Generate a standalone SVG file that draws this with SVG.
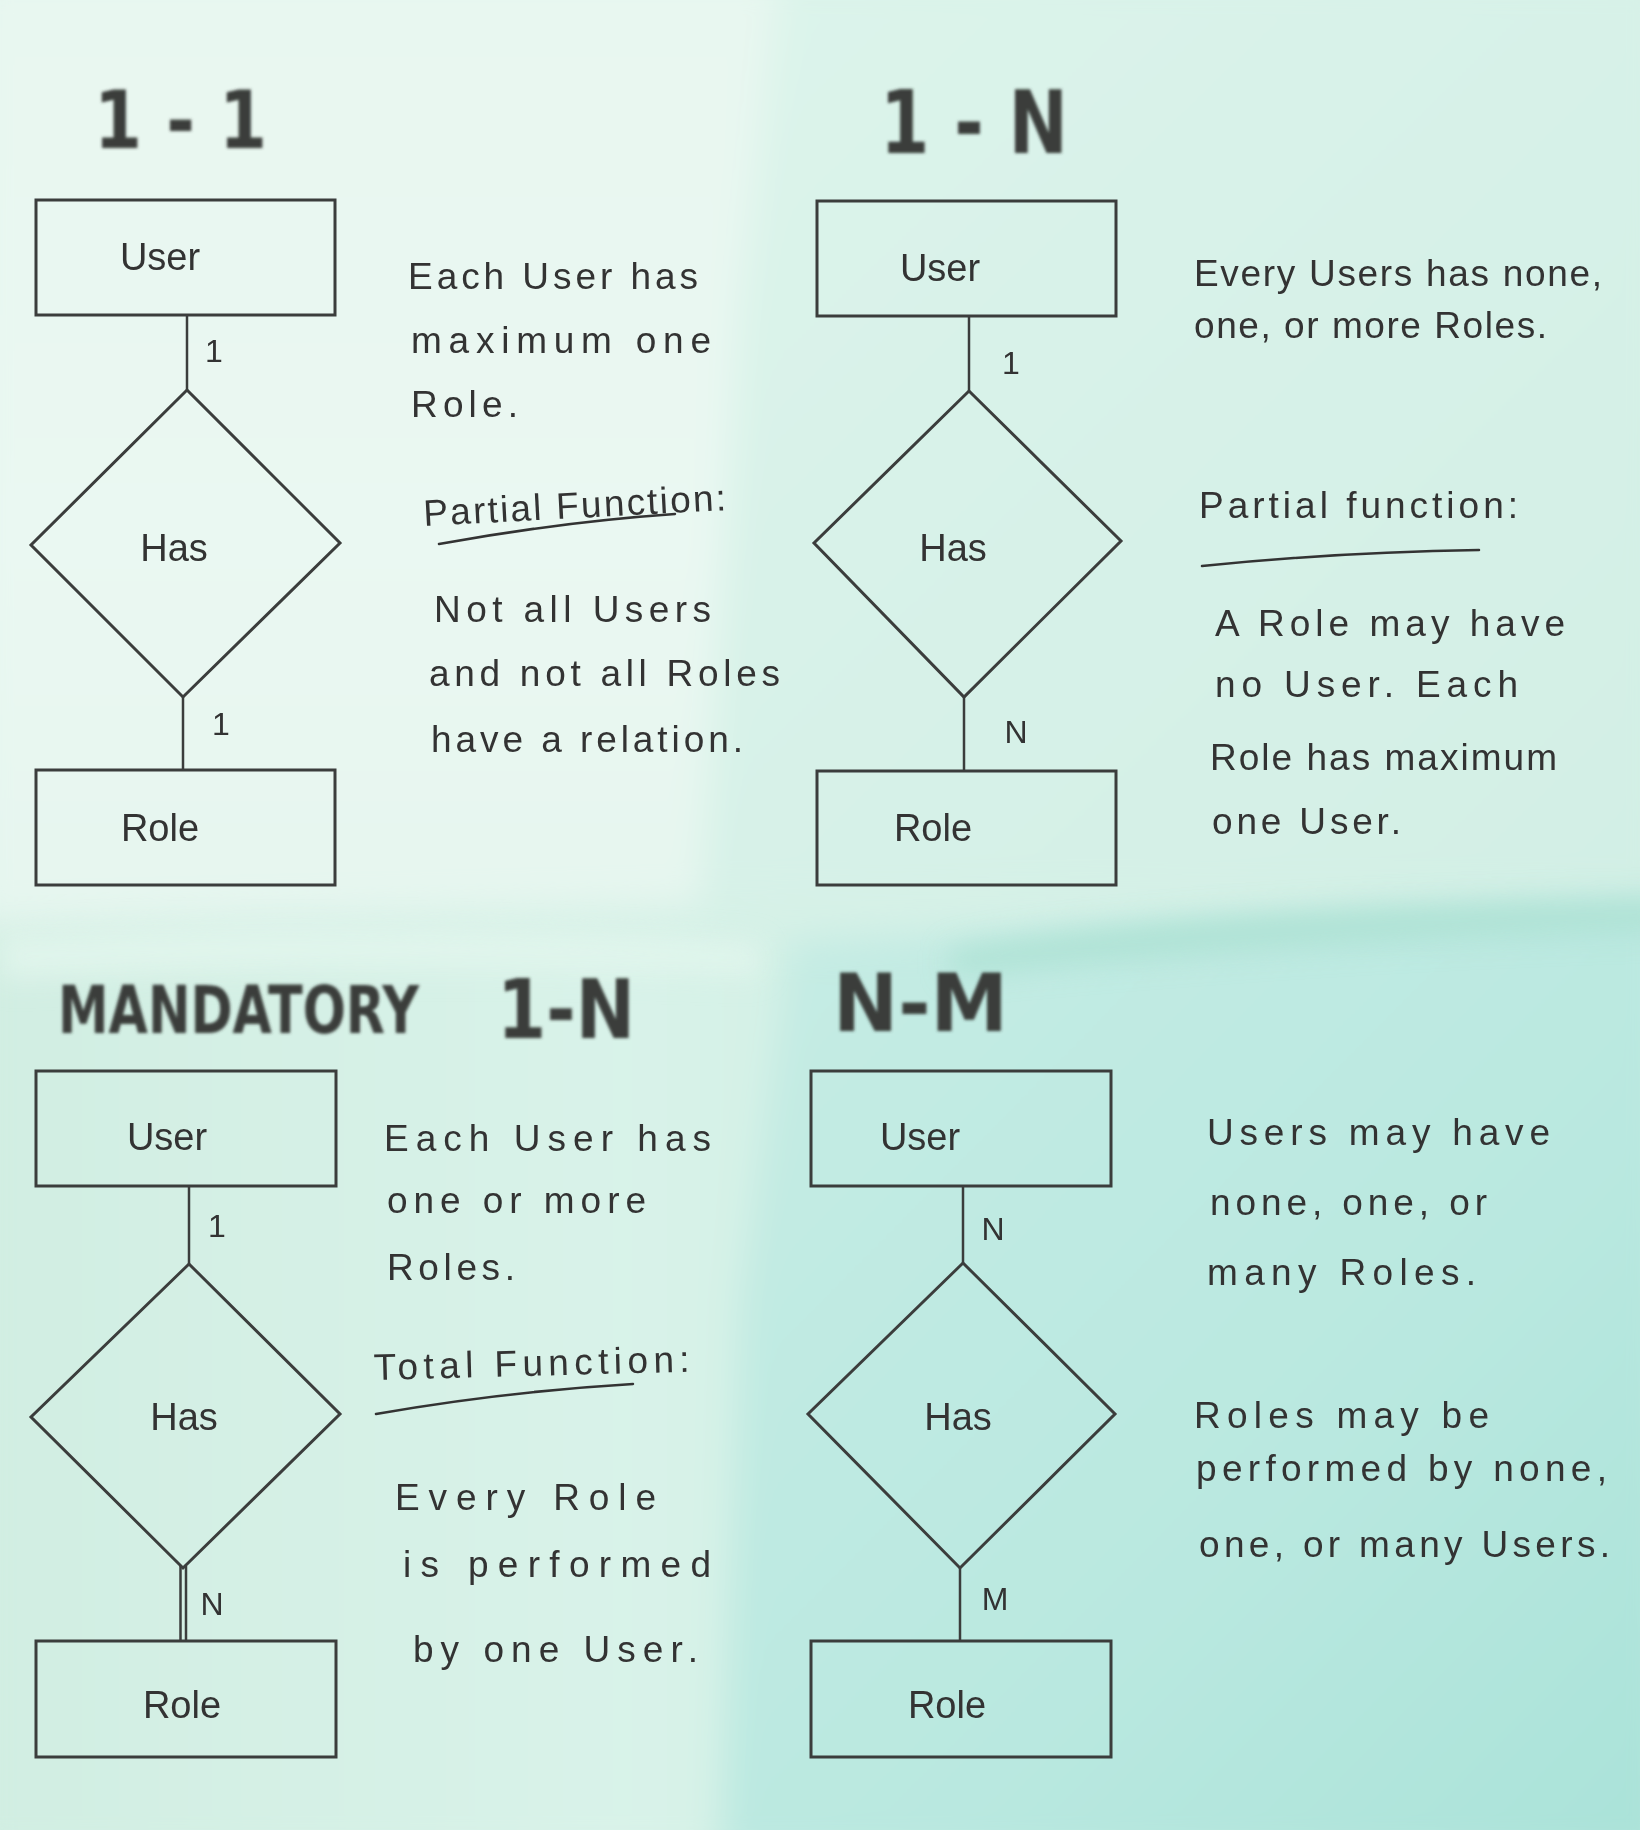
<svg xmlns="http://www.w3.org/2000/svg" width="1640" height="1830" viewBox="0 0 1640 1830">
<defs>
<linearGradient id="trg" x1="0" y1="0" x2="1" y2="1">
<stop offset="0" stop-color="#dcf4eb"/>
<stop offset="1" stop-color="#d2efe5"/>
</linearGradient>
<linearGradient id="brg" x1="0" y1="0" x2="1" y2="1">
<stop offset="0" stop-color="#c6ece4"/>
<stop offset="0.6" stop-color="#b9e8e0"/>
<stop offset="1" stop-color="#a9e2d8"/>
</linearGradient>
<linearGradient id="blg" x1="0" y1="0" x2="1" y2="0">
<stop offset="0" stop-color="#d1eee2"/>
<stop offset="0.8" stop-color="#d9f3e9"/>
<stop offset="1" stop-color="#d4f1e6"/>
</linearGradient>
<linearGradient id="tlg" x1="0" y1="0" x2="0" y2="1">
<stop offset="0" stop-color="#e8f7f0"/>
<stop offset="0.6" stop-color="#eaf8f2"/>
<stop offset="1" stop-color="#e6f6ef"/>
</linearGradient>
<filter id="wash" x="-10%" y="-10%" width="120%" height="120%"><feGaussianBlur stdDeviation="18"/></filter>
<filter id="wash2" x="-20%" y="-50%" width="140%" height="200%"><feGaussianBlur stdDeviation="14"/></filter>
<filter id="marker" x="-10%" y="-20%" width="120%" height="140%"><feGaussianBlur stdDeviation="1.6"/></filter>
<style>
.box{fill:none;stroke:#3b3d3c;stroke-width:3}
.con{fill:none;stroke:#3b3d3c;stroke-width:2.5}
.lbl{font-family:"Liberation Sans","DejaVu Sans",sans-serif;font-size:38px;fill:#333;text-anchor:middle}
.card{font-family:"Liberation Sans","DejaVu Sans",sans-serif;font-size:32px;fill:#333;text-anchor:middle}
.note{font-family:"Liberation Sans","DejaVu Sans",sans-serif;font-size:37px;fill:#333}
.title{font-family:"DejaVu Sans","Liberation Sans",sans-serif;font-weight:bold;fill:#3a3c3b}
.ul{fill:none;stroke:#333;stroke-width:2.5;stroke-linecap:round}
</style>
</defs>
<rect width="1640" height="1830" fill="#d6f1e7"/>
<g filter="url(#wash)">
<polygon points="-30,-30 780,-30 740,300 700,905 -30,925" fill="url(#tlg)"/>
<polygon points="780,-30 1670,-30 1670,900 700,905 740,300" fill="url(#trg)"/>
<polygon points="-30,930 790,940 740,1300 720,1860 -30,1860" fill="url(#blg)"/>
<polygon points="790,940 1670,900 1670,1860 720,1860 740,1300" fill="url(#brg)"/>
</g>
<g filter="url(#wash2)">
<path d="M950,950 Q1200,905 1670,900 L1670,930 Q1300,940 950,975 Z" fill="#a9e0d1" opacity="0.8"/>
<path d="M0,935 Q400,920 760,945 L760,975 Q400,960 0,980 Z" fill="#e3f6ee" opacity="0.8"/>
</g>

<!-- titles -->
<g filter="url(#marker)">
<text class="title" x="94" y="148" font-size="80" textLength="173" lengthAdjust="spacingAndGlyphs">1 - 1</text>
<text class="title" x="880" y="153" font-size="88" textLength="188" lengthAdjust="spacingAndGlyphs">1 - N</text>
<text class="title" font-size="66" transform="translate(58 1033) scale(0.77 1)">MANDATORY</text>
<text class="title" x="497" y="1038" font-size="82" textLength="138" lengthAdjust="spacingAndGlyphs">1-N</text>
<text class="title" x="833" y="1031" font-size="80" textLength="175" lengthAdjust="spacingAndGlyphs">N-M</text>
</g>

<!-- connectors -->
<g id="connectors">
<line class="con" x1="187" y1="315" x2="187" y2="390"/>
<line class="con" x1="183" y1="697" x2="183" y2="770"/>
<line class="con" x1="969" y1="316" x2="969" y2="391"/>
<line class="con" x1="964" y1="697" x2="964" y2="771"/>
<line class="con" x1="189" y1="1186" x2="189" y2="1264"/>
<line class="con" x1="180.5" y1="1566" x2="180.5" y2="1641"/>
<line class="con" x1="186" y1="1566" x2="186" y2="1641"/>
<line class="con" x1="963" y1="1186" x2="963" y2="1263"/>
<line class="con" x1="960" y1="1568" x2="960" y2="1641"/>
<text class="card" x="214" y="362">1</text>
<text class="card" x="221" y="735">1</text>
<text class="card" x="1011" y="374" font-size="40">1</text>
<text class="card" x="1016" y="743" font-size="36">N</text>
<text class="card" x="217" y="1237" font-size="34">1</text>
<text class="card" x="212" y="1615">N</text>
<text class="card" x="993" y="1240" font-size="34">N</text>
<text class="card" x="995" y="1610">M</text>
</g>

<!-- Q1 -->
<g id="q1-user"><rect class="box" x="36" y="200" width="299" height="115"/><text class="lbl" x="160" y="270">User</text></g>
<g id="q1-has"><polygon class="box" points="187,390 340,543 183,697 31,545"/><text class="lbl" x="174" y="561">Has</text></g>
<g id="q1-role"><rect class="box" x="36" y="770" width="299" height="115"/><text class="lbl" x="160" y="841">Role</text></g>

<!-- Q2 -->
<g id="q2-user"><rect class="box" x="817" y="201" width="299" height="115"/><text class="lbl" x="940" y="281">User</text></g>
<g id="q2-has"><polygon class="box" points="969,391 1121,541 964,697 814,543"/><text class="lbl" x="953" y="561">Has</text></g>
<g id="q2-role"><rect class="box" x="817" y="771" width="299" height="114"/><text class="lbl" x="933" y="841">Role</text></g>

<!-- Q3 -->
<g id="q3-user"><rect class="box" x="36" y="1071" width="300" height="115"/><text class="lbl" x="167" y="1150">User</text></g>
<g id="q3-has"><polygon class="box" points="189,1264 340,1414 183,1568 31,1417"/><text class="lbl" x="184" y="1430">Has</text></g>
<g id="q3-role"><rect class="box" x="36" y="1641" width="300" height="116"/><text class="lbl" x="182" y="1718">Role</text></g>

<!-- Q4 -->
<g id="q4-user"><rect class="box" x="811" y="1071" width="300" height="115"/><text class="lbl" x="920" y="1150">User</text></g>
<g id="q4-has"><polygon class="box" points="963,1263 1115,1414 960,1568 808,1414"/><text class="lbl" x="958" y="1430">Has</text></g>
<g id="q4-role"><rect class="box" x="811" y="1641" width="300" height="116"/><text class="lbl" x="947" y="1718">Role</text></g>

<!-- notes -->
<g id="notes">
<text class="note" x="408" y="289" textLength="290" lengthAdjust="spacing">Each User has</text>
<text class="note" x="411" y="353" textLength="300" lengthAdjust="spacing">maximum one</text>
<text class="note" x="411" y="417" textLength="107" lengthAdjust="spacing">Role.</text>
<text class="note" x="424" y="526" textLength="303" lengthAdjust="spacing" transform="rotate(-3 424 526)">Partial Function:</text>
<path class="ul" d="M439,544 Q560,522 675,514"/>
<text class="note" x="434" y="622" textLength="277" lengthAdjust="spacing">Not all Users</text>
<text class="note" x="429" y="686" textLength="351" lengthAdjust="spacing">and not all Roles</text>
<text class="note" x="431" y="752" textLength="312" lengthAdjust="spacing">have a relation.</text>

<text class="note" x="1194" y="286" textLength="408" lengthAdjust="spacing">Every Users has none,</text>
<text class="note" x="1194" y="338" textLength="353" lengthAdjust="spacing">one, or more Roles.</text>
<text class="note" x="1199" y="518" textLength="319" lengthAdjust="spacing">Partial function:</text>
<path class="ul" d="M1202,566 Q1340,552 1479,550"/>
<text class="note" x="1215" y="636" textLength="350" lengthAdjust="spacing">A Role may have</text>
<text class="note" x="1215" y="697" textLength="303" lengthAdjust="spacing">no User. Each</text>
<text class="note" x="1210" y="770" textLength="347" lengthAdjust="spacing">Role has maximum</text>
<text class="note" x="1212" y="834" textLength="189" lengthAdjust="spacing">one User.</text>

<text class="note" x="384" y="1151" textLength="327" lengthAdjust="spacing">Each User has</text>
<text class="note" x="387" y="1213" textLength="259" lengthAdjust="spacing">one or more</text>
<text class="note" x="387" y="1280" textLength="128" lengthAdjust="spacing">Roles.</text>
<text class="note" x="374" y="1380" textLength="316" lengthAdjust="spacing" transform="rotate(-1.5 374 1380)">Total Function:</text>
<path class="ul" d="M376,1414 Q500,1392 633,1384"/>
<text class="note" x="395" y="1510" textLength="261" lengthAdjust="spacing">Every Role</text>
<text class="note" x="403" y="1577" textLength="308" lengthAdjust="spacing">is performed</text>
<text class="note" x="413" y="1662" textLength="285" lengthAdjust="spacing">by one User.</text>

<text class="note" x="1207" y="1145" textLength="343" lengthAdjust="spacing">Users may have</text>
<text class="note" x="1210" y="1215" textLength="277" lengthAdjust="spacing">none, one, or</text>
<text class="note" x="1207" y="1285" textLength="269" lengthAdjust="spacing">many Roles.</text>
<text class="note" x="1194" y="1428" textLength="295" lengthAdjust="spacing">Roles may be</text>
<text class="note" x="1196" y="1481" textLength="411" lengthAdjust="spacing">performed by none,</text>
<text class="note" x="1199" y="1557" textLength="411" lengthAdjust="spacing">one, or many Users.</text>
</g>
</svg>
